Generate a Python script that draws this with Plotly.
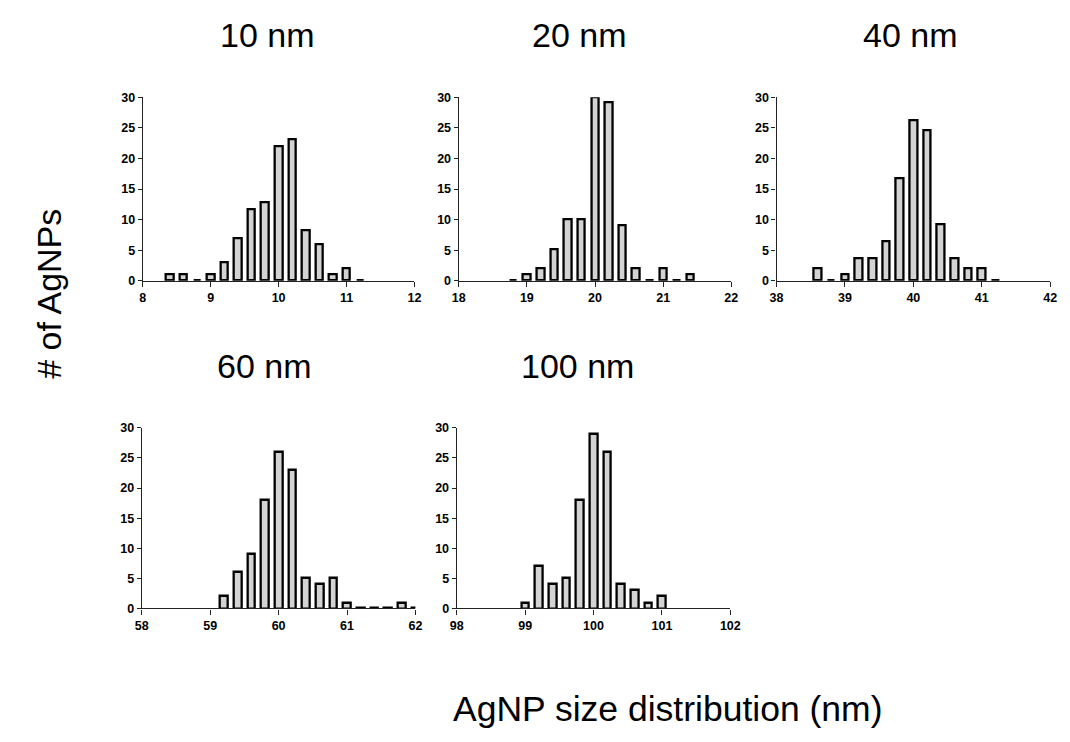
import plotly.graph_objects as go

W, H = 1070, 742

# ---- data ----
titles = ["10 nm", "20 nm", "40 nm", "60 nm", "100 nm"]

sizes_10 = [8.4, 8.6, 8.8, 9.0, 9.2, 9.4, 9.6, 9.8, 10.0, 10.2, 10.4, 10.6, 10.8, 11.0, 11.2]
counts_10 = [1, 1, 0, 1, 3, 7, 11.7, 12.8, 22, 23.2, 8.2, 6, 1, 2, 0]

sizes_20 = [18.8, 19.0, 19.2, 19.4, 19.6, 19.8, 20.0, 20.2, 20.4, 20.6, 20.8, 21.0, 21.2, 21.4]
counts_20 = [0, 1.1, 2.1, 5.1, 10.1, 10.1, 30, 29.2, 9.1, 2.1, 0, 2.1, 0, 1.1]

sizes_40 = [38.6, 38.8, 39.0, 39.2, 39.4, 39.6, 39.8, 40.0, 40.2, 40.4, 40.6, 40.8, 41.0, 41.2]
counts_40 = [2.1, 0, 1.1, 3.6, 3.6, 6.4, 16.8, 26.2, 24.6, 9.2, 3.6, 2.1, 2.1, 0]

sizes_60 = [59.2, 59.4, 59.6, 59.8, 60.0, 60.2, 60.4, 60.6, 60.8, 61.0, 61.2, 61.4, 61.6, 61.8, 62.0]
counts_60 = [2, 6, 9, 18, 26, 23, 5, 4, 5, 1, 0, 0, 0, 1, 0]

sizes_100 = [99.0, 99.2, 99.4, 99.6, 99.8, 100.0, 100.2, 100.4, 100.6, 100.8, 101.0]
counts_100 = [1, 7, 4, 5, 18, 29, 26, 4, 3, 1, 2]

x_ranges = [[8, 12], [18, 22], [38, 42], [58, 62], [98, 102]]
y_range = [0, 30]
y_ticks = [0, 5, 10, 15, 20, 25, 30]

series = [(sizes_10, counts_10), (sizes_20, counts_20), (sizes_40, counts_40),
          (sizes_60, counts_60), (sizes_100, counts_100)]

# ---- layout (pixel boxes) ----
px_boxes = [
    (138, 414, 92, 279),
    (459, 736, 92, 279),
    (782, 1060, 92, 279),
    (137, 415, 429, 613),
    (457, 735, 429, 613),
]
title_pos = [(265, 29), (582, 29), (918, 29), (262, 366), (580, 366)]

FONT = "Liberation Sans, Arial, sans-serif"

fig = go.Figure()
layout = dict(
    width=W, height=H, margin=dict(l=0, r=0, t=0, b=0),
    paper_bgcolor="white", plot_bgcolor="white", showlegend=False,
    bargap=0,
)
annotations = []
for i, ((xs, ys), (x0, x1, y0, y1), xr) in enumerate(zip(series, px_boxes, x_ranges)):
    n = "" if i == 0 else str(i + 1)
    disp = [max(v, 0.12) for v in ys]  # zero bins drawn as a flat dash on the axis
    fig.add_trace(go.Bar(
        x=xs, y=disp, width=0.11,
        marker=dict(color="#d3d3d3", line=dict(color="black", width=2.3)),
        xaxis="x" + n, yaxis="y" + n, hoverinfo="x+y",
    ))
    layout["xaxis" + n] = dict(
        domain=[x0 / W, x1 / W], range=xr, anchor="y" + n,
        tickmode="array", tickvals=list(range(xr[0], xr[1] + 1)),
        showline=True, linecolor="#222", linewidth=1.3,
        ticks="outside", ticklen=5, tickwidth=1.3, tickcolor="#222",
        showgrid=False, zeroline=False,
        tickfont=dict(family=FONT, size=12.5, color="black", weight="bold"),
    )
    layout["yaxis" + n] = dict(
        domain=[1 - y1 / H, 1 - y0 / H], range=y_range, anchor="x" + n,
        tickmode="array", tickvals=y_ticks,
        showline=True, linecolor="#222", linewidth=1.3,
        ticks="outside", ticklen=4, tickwidth=1.3, tickcolor="#222",
        showgrid=False, zeroline=False,
        tickfont=dict(family=FONT, size=12.5, color="black", weight="bold"),
    )
    tx, ty = title_pos[i]
    annotations.append(dict(
        text=titles[i], x=tx / W, y=1 - ty / H, xref="paper", yref="paper",
        showarrow=False, xanchor="center", yanchor="middle",
        font=dict(family=FONT, size=34, color="black"),
    ))

annotations.append(dict(
    text="# of AgNPs", x=43 / W, y=1 - 292 / H, xref="paper", yref="paper",
    showarrow=False, textangle=-90, xanchor="center", yanchor="middle",
    font=dict(family=FONT, size=34, color="black"),
))
annotations.append(dict(
    text="AgNP size distribution (nm)", x=671 / W, y=1 - 716 / H, xref="paper", yref="paper",
    showarrow=False, xanchor="center", yanchor="middle",
    font=dict(family=FONT, size=35.5, color="black"),
))
layout["annotations"] = annotations
fig.update_layout(**layout)
fig.write_html(
    "out.html",
    config={"displayModeBar": False},
    post_script="document.documentElement.style.margin='0';"
                "document.body.style.margin='0';"
                "document.body.style.overflow='hidden';",
)
